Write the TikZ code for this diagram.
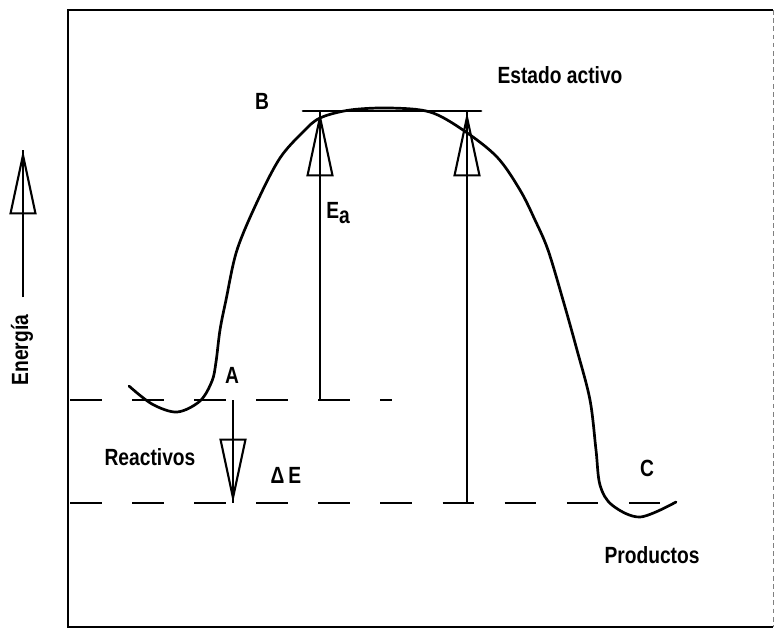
\documentclass[tikz,border=0pt]{standalone}
\usepackage{fontspec}
\setmainfont{Liberation Sans}
\newfontfamily\labelfont{Liberation Sans}[FakeStretch=0.82]
\usetikzlibrary{arrows.meta}

\begin{document}
\begin{tikzpicture}[x=0.03cm, y=-0.03cm,
      lbl/.style={font=\labelfont\bfseries\fontsize{20}{24}\selectfont, inner sep=0pt},
      ink/.style={line width=2.3pt, line cap=round, line join=round},
      guide/.style={line width=2.3pt, dash pattern=on 27pt off 26pt, dash phase=0pt},
      stem/.style={line width=1.8pt},
      hollow/.style={line width=1.8pt, -{Triangle[open, length=55pt, width=23pt]}}]
    \useasboundingbox (0,0) rectangle (777,633);
    % frame
    \draw[line width=2.4pt] (773,10) -- (68,10) -- (68,627) -- (773,627);
    \draw[line width=0.8pt, gray, dash pattern=on 4pt off 3pt] (773,10) -- (773,627);
    % energy levels
    \coordinate (r0) at (70,400);  \coordinate (r1) at (392,400);
    \coordinate (p0) at (70,503);  \coordinate (p1) at (682,503);
    \coordinate (t0) at (303,111); \coordinate (t1) at (481,111);
    \draw[guide] (r0) -- (r1);
    \draw[guide] (p0) -- (p1);
    \draw[ink] (t0) -- (t1);
    % reaction curve
    \draw[ink] plot[smooth, tension=0.55] coordinates {
      (129,386) (152,404) (177,412) (200,401) (212,381) (216,362) (220,330)
      (226,300) (237,250) (258,200) (280,158) (303,132) (320,118) (350,110)
      (390,108) (430,112) (463,130) (497,157) (520,190) (535,220) (548,250)
      (563,300) (577,350) (590,400) (596,450) (600,485) (612,505) (640,517)
      (676,502)};
    % arrows
    \coordinate (ea0) at (320,400); \coordinate (ea1) at (320,112);
    \coordinate (tb0) at (467,503); \coordinate (tb1) at (467,112);
    \coordinate (de0) at (233,400); \coordinate (de1) at (233,503);
    \coordinate (en0) at (23,297);  \coordinate (en1) at (23,150);
    \foreach \s/\e in {ea0/ea1, tb0/tb1, de0/de1, en0/en1} {
      \draw[stem] (\s) -- (\e);
      \draw[hollow] (\s) -- (\e);
    }
    % labels
    \node[lbl] (estado) at (560,75) {Estado activo};
    \node[lbl] (b) at (262,101) {B};
    \node[lbl] (ea) at (338,213) {E\raisebox{-0.45ex}{a}};
    \node[lbl] (a) at (232,375) {A};
    \node[lbl] (reac) at (150,457) {Reactivos};
    \node[lbl] (de) at (286,475) {Δ\,E};
    \node[lbl] (c) at (647,468) {C};
    \node[lbl] (prod) at (652,555) {Productos};
    \node[lbl, rotate=90] (energia) at (22,350) {Energía};
  \end{tikzpicture}
\end{document}
